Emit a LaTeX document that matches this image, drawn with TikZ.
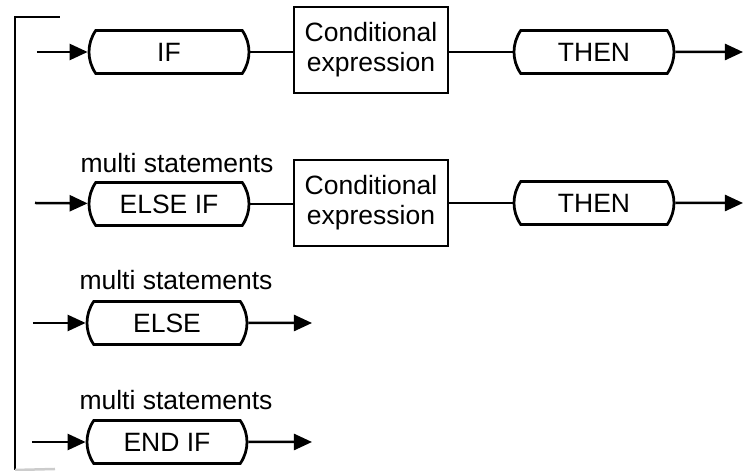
\documentclass[tikz,border=0pt]{standalone}
\usepackage{fontspec}
\setmainfont{Liberation Sans}
\usetikzlibrary{arrows.meta}
\usetikzlibrary{shapes.misc}
\usetikzlibrary{positioning}

\tikzstyle{every node}=[font=\fontsize{10.6}{12}\selectfont, inner sep=0pt]
\tikzset{
  keyword/.style={rounded rectangle, rounded rectangle arc length=70, draw, line width=1.1pt, minimum width=64pt, minimum height=17.2pt},
  condbox/.style={rectangle, draw, line width=1.1pt, minimum width=61.6pt, minimum height=34.4pt, align=center},
  note/.style={anchor=base},
  flow/.style={-{Triangle[length=7.2pt, width=6.4pt]}, line width=1pt},
  link/.style={line width=1pt},
}

\begin{document}
\begin{tikzpicture}[x=0.4pt, y=-0.4pt]
	\useasboundingbox (0,0) rectangle (743,471);
	\pgfsetlinewidth{1pt}

	% bracket on the left
	\coordinate (top) at (60,17);
	\coordinate (corner) at (15,17);
	\coordinate (bottom) at (15,470);
	\coordinate (foot) at (55,469);
	\draw (top) -- (corner) -- (bottom);
	\draw[gray!40] (bottom) -- (foot);

	% IF ... THEN
	\coordinate (in1) at (37,52);
	\node[keyword] (if) at (169,52) {IF};
	\node[condbox] (cond1) at (371,50) {Conditional\\expression};
	\node[keyword] (then1) at (594,52) {THEN};
	\coordinate (out1) at (743,52);

	\draw[flow] (in1) -- (if);
	\draw[link] (if.east) -- (if.east -| cond1.west);
	\draw[link] (then1.west -| cond1.east) -- (then1.west);
	\draw[flow] (then1) -- (out1);

	% ELSE IF ... THEN
	\node[note] (ms2) at (177,173) {multi statements};
	\coordinate (in2) at (35,203);
	\node[keyword] (elseif) at (169,204) {ELSE IF};
	\node[condbox] (cond2) at (371,203) {Conditional\\expression};
	\node[keyword] (then2) at (594,203) {THEN};
	\coordinate (out2) at (743,203);

	\draw[flow] (in2) -- (elseif);
	\draw[link] (elseif.east) -- (elseif.east -| cond2.west);
	\draw[link] (then2.west -| cond2.east) -- (then2.west);
	\draw[flow] (then2) -- (out2);

	% ELSE
	\node[note] (ms3) at (176,290) {multi statements};
	\coordinate (in3) at (33,323);
	\node[keyword] (else) at (167,323) {ELSE};
	\coordinate (out3) at (312,323);
	\draw[flow] (in3) -- (else);
	\draw[flow] (else) -- (out3);

	% END IF
	\node[note] (ms4) at (176,410) {multi statements};
	\coordinate (in4) at (32,442);
	\node[keyword] (endif) at (167,442) {END IF};
	\coordinate (out4) at (312,442);
	\draw[flow] (in4) -- (endif);
	\draw[flow] (endif) -- (out4);

\end{tikzpicture}
\end{document}
